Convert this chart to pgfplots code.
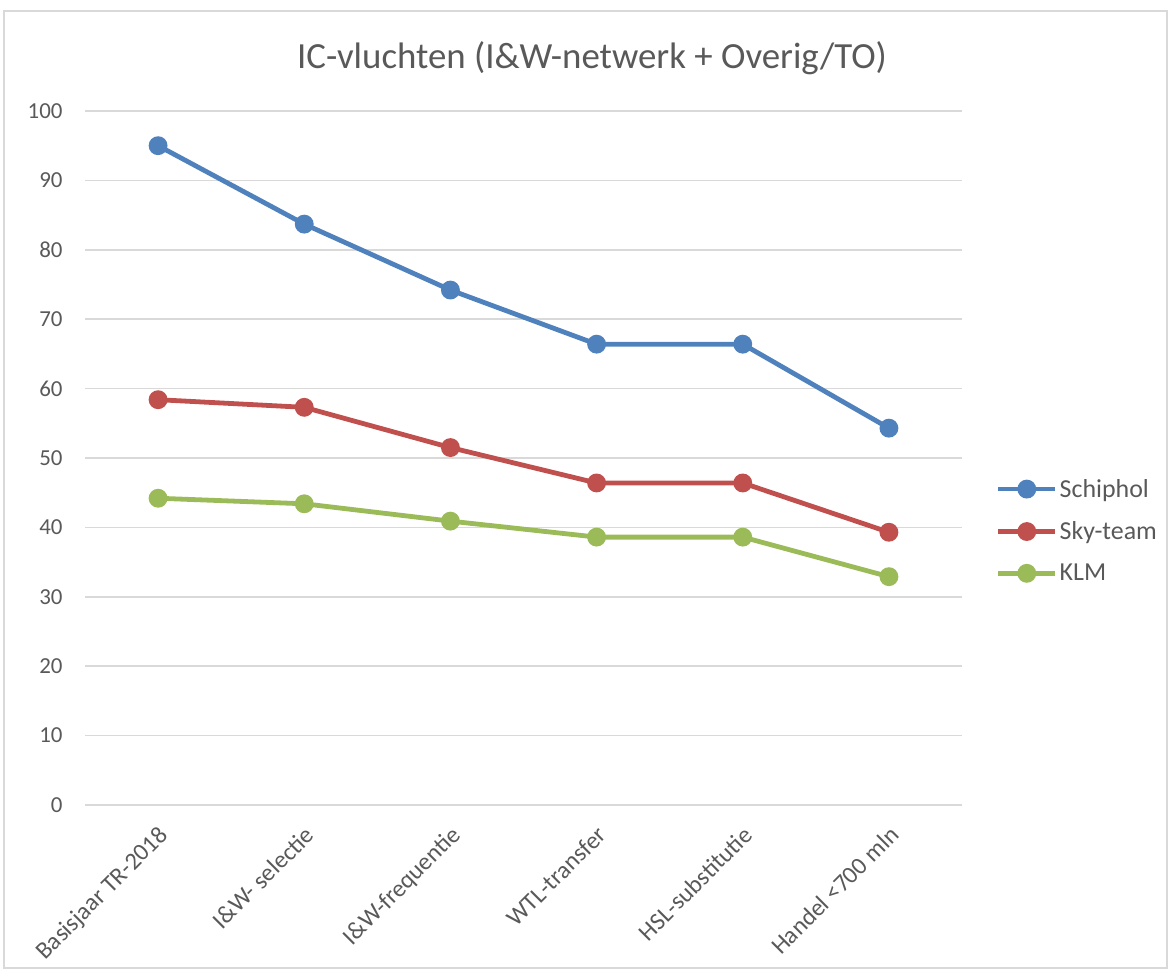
\documentclass[border=0pt]{standalone}
\usepackage{fontspec}
\setmainfont{Carlito}
\usepackage{pgfplots}
\pgfplotsset{compat=1.18}
\definecolor{sch}{HTML}{4F81BD}
\definecolor{sky}{HTML}{C0504D}
\definecolor{klm}{HTML}{9BBB59}
\definecolor{gridc}{HTML}{D9D9D9}
\definecolor{txt}{HTML}{595959}
\begin{document}
\begin{tikzpicture}[x=1bp,y=1bp]
\useasboundingbox (0,0) rectangle (1170,971);
\draw[color=gridc, line width=1.5bp] (4,3) rectangle (1167,960);
\node[text=txt, font=\fontsize{37}{42}\selectfont] at (592,913) {IC-vluchten (I\&W-netwerk + Overig/TO)};
\begin{axis}[
  at={(85bp,166bp)}, anchor=south west,
  scale only axis, width=877bp, height=694bp,
  xmin=-0.5, xmax=5.5, ymin=0, ymax=100,
  ytick={0,10,...,100}, xtick={0,...,5},
  xticklabels={Basisjaar TR-2018, I\&W- selectie, I\&W-frequentie, WTL-transfer, HSL-substitutie, Handel <700 mln},
  x tick label style={rotate=45, anchor=north east, xshift=-11bp, yshift=-10bp, font=\fontsize{24.5}{28}\selectfont},
  ymajorgrids, grid style={gridc, line width=1.5bp},
  axis line style={draw=none}, major tick style={draw=none},
  tick label style={font=\fontsize{23}{27}\selectfont, text=txt},
  yticklabel style={xshift=-19bp},
  /pgf/number format/assume math mode=true,
  every axis plot/.append style={line width=4.8bp, mark=*, mark size=7bp},
  legend style={at={(rel axis cs:1.035,0.395)}, anchor=west, draw=none, fill=none,
     font=\fontsize{26}{30}\selectfont, text=txt, row sep=19bp, cells={anchor=west}},
  legend image code/.code={\draw[#1, line width=4.8bp, mark=none] (0bp,0bp) -- (57bp,0bp); \fill[#1] (28.5bp,0bp) circle (7bp);},
]
\addplot[color=sch] coordinates {(0,95.0) (1,83.7) (2,74.2) (3,66.4) (4,66.4) (5,54.3)};
\addlegendentry{Schiphol}
\addplot[color=sky] coordinates {(0,58.4) (1,57.3) (2,51.5) (3,46.4) (4,46.4) (5,39.3)};
\addlegendentry{Sky-team}
\addplot[color=klm] coordinates {(0,44.2) (1,43.4) (2,40.9) (3,38.6) (4,38.6) (5,32.9)};
\addlegendentry{KLM}
\end{axis}
\end{tikzpicture}
\end{document}
